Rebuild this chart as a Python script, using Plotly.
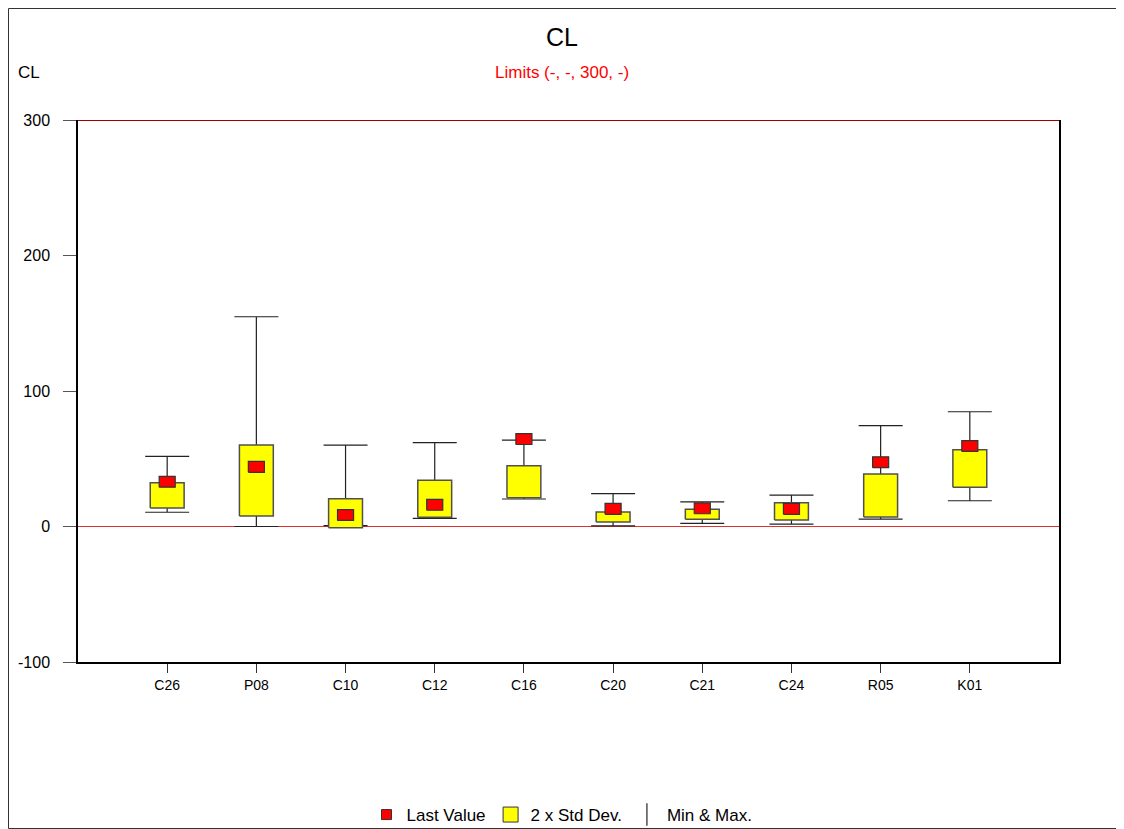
import plotly.graph_objects as go

categories = ["C26", "P08", "C10", "C12", "C16", "C20", "C21", "C24", "R05", "K01"]
last_value = [33, 44, 8.5, 16, 64.5, 13, 13.4, 13, 47.4, 59.4]
std_low = [13.6, 7.7, -1, 6.8, 21.3, 3.3, 5.3, 4.8, 7, 28.9]
std_high = [32.3, 60.1, 20.5, 34.1, 44.9, 10.7, 12.7, 17.6, 38.7, 56.7]
min_val = [10.5, 0, 0.6, 6, 20.3, 0.4, 2.3, 1.8, 5.5, 19]
max_val = [51.8, 154.8, 60.1, 61.9, 63.8, 24.2, 18.1, 23.2, 74.4, 84.7]
upper_limit = 300
y_ticks = [300, 200, 100, 0, -100]
y_tick_text = ["300", "200", "100", "0", "-100"]

xs = list(range(1, len(categories) + 1))
half_box = 0.19
half_mark_w = 0.09
half_mark_h = 4.0

FIG_W, FIG_H = 1116, 821
L, T, PW, PH = 70, 112, 981, 542
R = FIG_W - L - PW
B = FIG_H - T - PH
CENTER_PX = 554
CENTER_X = CENTER_PX / FIG_W
CENTER_PAPER = (CENTER_PX - L) / PW

fig = go.Figure()

# Min & Max whiskers via error bars
mid = [(a + b) / 2 for a, b in zip(min_val, max_val)]
fig.add_trace(go.Scatter(
    x=xs, y=mid, mode="markers",
    marker=dict(size=1, color="rgba(0,0,0,0)"),
    error_y=dict(type="data", symmetric=False,
                 array=[b - m for b, m in zip(max_val, mid)],
                 arrayminus=[m - a for a, m in zip(min_val, mid)],
                 width=22, thickness=1.2, color="#222222"),
    showlegend=False, hoverinfo="skip"))

# 2 x Std Dev boxes
bx, by = [], []
for x, lo, hi in zip(xs, std_low, std_high):
    bx += [x - half_box, x + half_box, x + half_box, x - half_box, x - half_box, None]
    by += [lo, lo, hi, hi, lo, None]
fig.add_trace(go.Scatter(
    x=bx, y=by, mode="lines", fill="toself", fillcolor="#FFFF00",
    line=dict(color="#505050", width=1.5), showlegend=False, hoverinfo="skip"))

# Last value markers (rectangles)
mx, my = [], []
for x, v in zip(xs, last_value):
    mx += [x - half_mark_w, x + half_mark_w, x + half_mark_w, x - half_mark_w, x - half_mark_w, None]
    my += [v - half_mark_h, v - half_mark_h, v + half_mark_h, v + half_mark_h, v - half_mark_h, None]
fig.add_trace(go.Scatter(
    x=mx, y=my, mode="lines", fill="toself", fillcolor="#FF0000",
    line=dict(color="#333333", width=1.2), showlegend=False, hoverinfo="skip"))

# legend entries
fig.add_trace(go.Scatter(
    x=[None], y=[None], mode="markers", name="Last Value", legendrank=1,
    marker=dict(symbol="square", size=10, color="#FF0000",
                line=dict(color="#333333", width=1))))
fig.add_trace(go.Scatter(
    x=[None], y=[None], mode="markers", name="2 x Std Dev.", legendrank=2,
    marker=dict(symbol="square", size=15, color="#FFFF00",
                line=dict(color="#333333", width=1))))
fig.add_trace(go.Scatter(
    x=[None], y=[None], mode="markers", name="Min & Max.", legendrank=3,
    marker=dict(symbol="line-ns-open", size=16, color="#222222",
                line=dict(color="#222222", width=1.2))))

# Limit line at 300
fig.add_shape(type="line", xref="paper", x0=0, x1=1, yref="y",
              y0=upper_limit, y1=upper_limit,
              line=dict(color="#A00000", width=2))

# outer border around the figure
fig.add_shape(type="rect", xref="paper", yref="paper",
              x0=-(L - 0.5) / PW, x1=(FIG_W - L - 0.5) / PW,
              y0=-(B - 0.5) / PH, y1=(PH + T - 0.5) / PH,
              line=dict(color="#333333", width=1))

fig.update_layout(
    width=FIG_W, height=FIG_H,
    margin=dict(l=L, r=R, t=T, b=B, autoexpand=False),
    paper_bgcolor="white", plot_bgcolor="white",
    font=dict(family="Liberation Sans, Arial, sans-serif", size=12, color="#000000"),
    title=dict(text="CL", x=CENTER_X, xanchor="center", y=1 - 29 / FIG_H, yanchor="middle",
               font=dict(size=25, color="#000000")),
    showlegend=True,
    legend=dict(orientation="h", xref="container", yref="container",
                x=CENTER_X, xanchor="center", y=1 - 807 / FIG_H, yanchor="middle",
                font=dict(size=17), itemwidth=30, tracegroupgap=0,
                bgcolor="rgba(0,0,0,0)"),
    xaxis=dict(range=[0, len(categories) + 1], tickmode="array", tickvals=xs,
               ticktext=categories, showgrid=False, zeroline=False,
               showline=True, linecolor="#000000", linewidth=1.5,
               ticks="outside", ticklen=9, tickcolor="#333333",
               tickfont=dict(size=14), fixedrange=True),
    yaxis=dict(range=[-100, 300], tickmode="array", tickvals=y_ticks, ticktext=y_tick_text,
               showgrid=False, zeroline=True, zerolinecolor="#E03030", zerolinewidth=1,
               showline=True, linecolor="#000000", linewidth=1.5, mirror=True,
               ticks="outside", ticklen=13, tickcolor="#555555",
               ticklabelstandoff=10,
               tickfont=dict(size=16), fixedrange=True),
    annotations=[
        dict(text="Limits (-, -, 300, -)", xref="paper", yref="paper", x=CENTER_PAPER,
             y=(PH + 48) / PH,
             showarrow=False, font=dict(size=17, color="#FF0000"),
             xanchor="center", yanchor="middle"),
        dict(text="CL", xref="paper", yref="paper", x=-49 / PW, y=(PH + 48) / PH,
             showarrow=False, font=dict(size=17, color="#000000"),
             xanchor="center", yanchor="middle"),
    ],
)

fig.write_html("out.html")
